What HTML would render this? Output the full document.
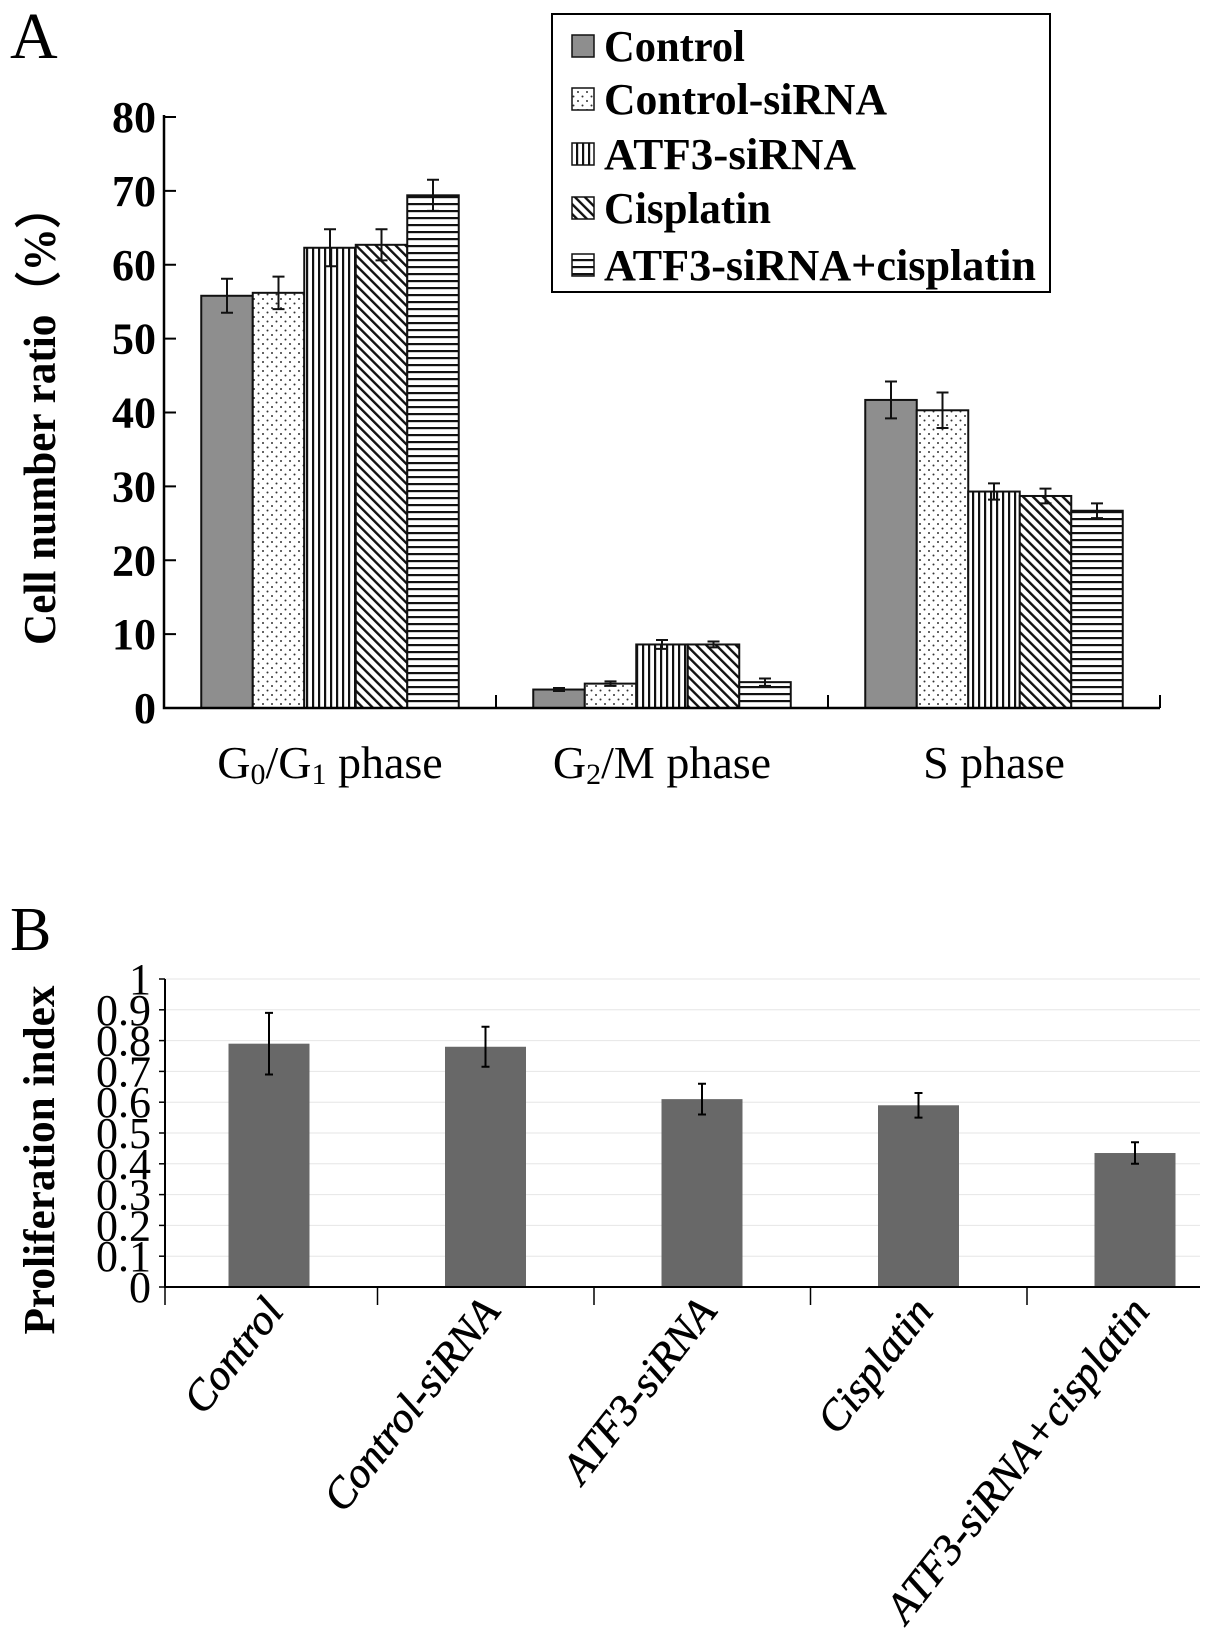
<!DOCTYPE html>
<html><head><meta charset="utf-8"><style>
html,body{margin:0;padding:0;background:#fff;}
svg{display:block;font-family:"Liberation Serif",serif;}
</style></head><body>
<svg id="fig" width="1205" height="1637" viewBox="0 0 1205 1637" xmlns="http://www.w3.org/2000/svg">
<defs>
<pattern id="p-dot" width="9" height="9" patternUnits="userSpaceOnUse"><rect width="9" height="9" fill="#fff"/><circle cx="2" cy="2" r="1" fill="#333"/><circle cx="6.5" cy="6.5" r="1" fill="#333"/></pattern>
<pattern id="p-vert" width="6" height="6" patternUnits="userSpaceOnUse"><rect width="6" height="6" fill="#fff"/><rect x="0" y="0" width="2.2" height="6" fill="#111"/></pattern>
<pattern id="p-diag" width="7" height="7" patternUnits="userSpaceOnUse" patternTransform="rotate(-45)"><rect width="7" height="7" fill="#fff"/><rect x="0" y="0" width="2.4" height="7" fill="#111"/></pattern>
<pattern id="p-horz" width="6" height="7" patternUnits="userSpaceOnUse"><rect width="6" height="7" fill="#fff"/><rect x="0" y="0" width="6" height="2.2" fill="#111"/></pattern>
</defs>
<text x="10" y="58" font-size="66">A</text>
<text x="10" y="950" font-size="62">B</text>
<g id="chartA"></g>
<g id="legendA"></g>
<g id="chartB"></g>
</svg>
<script>
const NS = "http://www.w3.org/2000/svg";
// Panel A data
const phases = ["G0/G1", "G2/M", "S"];
const groups = ["Control", "Control-siRNA", "ATF3-siRNA", "Cisplatin", "ATF3-siRNA+cisplatin"];
const controlVals = [55.8, 2.5, 41.7];
const controlSiVals = [56.2, 3.3, 40.3];
const atf3Vals = [62.3, 8.6, 29.3];
const cisVals = [62.7, 8.6, 28.7];
const comboVals = [69.4, 3.5, 26.7];
const controlErr = [2.3, 0.2, 2.5];
const controlSiErr = [2.2, 0.3, 2.4];
const atf3Err = [2.5, 0.6, 1.1];
const cisErr = [2.1, 0.4, 1.0];
const comboErr = [2.1, 0.5, 1.0];
const yTicksA = [0, 10, 20, 30, 40, 50, 60, 70, 80];
// Panel B data
const bCategories = ["Control", "Control-siRNA", "ATF3-siRNA", "Cisplatin", "ATF3-siRNA+cisplatin"];
const bValues = [0.79, 0.78, 0.61, 0.59, 0.435];
const bErrors = [0.10, 0.065, 0.05, 0.04, 0.035];
const yTicksB = [0, 0.1, 0.2, 0.3, 0.4, 0.5, 0.6, 0.7, 0.8, 0.9, 1];

function mk(tag, attrs, parent){ const e=document.createElementNS(NS,tag); for(const k in attrs) e.setAttribute(k,attrs[k]); parent.appendChild(e); return e; }

// ---------- Panel A ----------
const gA = document.getElementById("chartA");
const axA = {x0:164, x1:1160, y0:708, y1:117, vmax:80};
const yA = v => axA.y0 - (v/axA.vmax)*(axA.y0-axA.y1);
const bandW = (axA.x1-axA.x0)/phases.length;
const barW = 51.5;
const series = [controlVals, controlSiVals, atf3Vals, cisVals, comboVals];
const errs = [controlErr, controlSiErr, atf3Err, cisErr, comboErr];
const fills = ["#8e8e8e", "url(#p-dot)", "url(#p-vert)", "url(#p-diag)", "url(#p-horz)"];
const sNames = ["control","control-sirna","atf3-sirna","cisplatin","atf3-sirna-cisplatin"];
const phaseNames = ["g0-g1","g2-m","s"];

yTicksA.forEach(t=>{
  const tk = mk("line",{x1:axA.x0,x2:axA.x0+12,y1:yA(t),y2:yA(t),stroke:"#000","stroke-width":2},gA);
  
  
  const lb = mk("text",{x:156,y:yA(t)+15,"text-anchor":"end","font-size":44,"font-weight":"bold"},gA);
  lb.textContent = t;
  
  
});
phases.forEach((p,pi)=>{
  const cx = axA.x0 + bandW*(pi+0.5);
  const start = cx - barW*series.length/2;
  series.forEach((s,si)=>{
    const x = start + si*barW, y = yA(s[pi]);
    const r = mk("rect",{x:x,y:y,width:barW,height:axA.y0-y,fill:fills[si],stroke:"#111","stroke-width":2},gA);
    
    
    const ex = x+barW/2, eh = yA(s[pi]+errs[si][pi]), el = yA(s[pi]-errs[si][pi]);
    const e = mk("path",{d:`M${ex},${eh}V${el}M${ex-6},${eh}H${ex+6}M${ex-6},${el}H${ex+6}`,stroke:"#111","stroke-width":2,fill:"none"},gA);
    
    
  });
  const cl = mk("text",{x:cx,y:778,"text-anchor":"middle","font-size":46},gA);
  
  
  const parts = pi===0 ? ["G","0","/G","1"," phase"] : pi===1 ? ["G","2","/M phase"] : ["S phase"];
  parts.forEach((t,i)=>{ const ts=mk("tspan",{},cl); ts.textContent=t; if(/^\d$/.test(t)){ts.setAttribute("font-size","30");ts.setAttribute("dy","6");} else if(i>0 && /^\d$/.test(parts[i-1])){ts.setAttribute("dy","-6");} });
  const bt = mk("line",{x1:axA.x0+bandW*(pi+1),x2:axA.x0+bandW*(pi+1),y1:axA.y0,y2:axA.y0-13,stroke:"#000","stroke-width":2},gA);
  
  
});
const axLA = mk("path",{d:`M${axA.x0},${axA.y1-2}V${axA.y0}H${axA.x1}`,stroke:"#000","stroke-width":2.5,fill:"none"},gA);


const ytA = mk("text",{x:0,y:0,"text-anchor":"middle","font-size":46,"font-weight":"bold",transform:"translate(55,415) rotate(-90)",textLength:460,lengthAdjust:"spacingAndGlyphs"},gA);
ytA.textContent = "Cell number ratio（%）";



// Legend
const gL = document.getElementById("legendA");
const lbox = mk("rect",{x:552,y:14,width:498,height:278,fill:"#fff",stroke:"#000","stroke-width":2},gL);


const legY = [46, 99, 154, 208, 265];
const legLen = [141, 283, 252, 167, 432];
groups.forEach((g,i)=>{
  const sw = mk("rect",{x:572,y:legY[i]-11,width:22,height:22,fill:fills[i],stroke:"#111","stroke-width":1.5},gL);
  
  
  const t = mk("text",{x:604,y:legY[i]+15,"font-size":44,"font-weight":"bold",textLength:legLen[i],lengthAdjust:"spacingAndGlyphs"},gL);
  t.textContent = g;
  
  
});

// ---------- Panel B ----------
const gB = document.getElementById("chartB");
const axB = {x0:165, x1:1200, y0:1287, y1:979, vmax:1};
const yB = v => axB.y0 - (v/axB.vmax)*(axB.y0-axB.y1);
const pitchB = 216.5, barWB = 81;
yTicksB.forEach(t=>{
  if(t>0){ const gl = mk("line",{x1:axB.x0,x2:axB.x1,y1:yB(t),y2:yB(t),stroke:"#e6e6e6","stroke-width":1},gB);
    
     }
  const tk = mk("line",{x1:axB.x0-6,x2:axB.x0,y1:yB(t),y2:yB(t),stroke:"#000","stroke-width":1.5},gB);
  
  
  const lb = mk("text",{x:151,y:yB(t)+15,"text-anchor":"end","font-size":44},gB);
  lb.textContent = t;
  
  
});
bCategories.forEach((c,i)=>{
  const cx = axB.x0 + 104 + pitchB*i;
  const y = yB(bValues[i]);
  const r = mk("rect",{x:cx-barWB/2,y:y,width:barWB,height:axB.y0-y,fill:"#686868"},gB);
  
  
  const eh = yB(bValues[i]+bErrors[i]), el = yB(bValues[i]-bErrors[i]);
  const e = mk("path",{d:`M${cx},${eh}V${el}M${cx-4},${eh}H${cx+4}M${cx-4},${el}H${cx+4}`,stroke:"#000","stroke-width":2,fill:"none"},gB);
  
  
  const tx = axB.x0 + pitchB*(i+1) - 4;
  if(tx < axB.x1){ const bt = mk("line",{x1:tx,x2:tx,y1:axB.y0,y2:axB.y0+18,stroke:"#000","stroke-width":1.5},gB);
    
     }
  const lb = mk("text",{x:0,y:0,"text-anchor":"end","font-size":43,"font-style":"italic","stroke":"#000","stroke-width":0.6,transform:`translate(${cx+16},${1312}) rotate(-52)`},gB);
  lb.textContent = c;
  
  
});
const ft = mk("line",{x1:axB.x0,x2:axB.x0,y1:axB.y0,y2:axB.y0+18,stroke:"#000","stroke-width":1.5},gB);


const axLB = mk("path",{d:`M${axB.x0},${axB.y1}V${axB.y0}H${axB.x1}`,stroke:"#000","stroke-width":2,fill:"none"},gB);


const ytB = mk("text",{x:0,y:0,"text-anchor":"middle","font-size":44,"font-weight":"bold",transform:"translate(54,1160) rotate(-90)",textLength:349,lengthAdjust:"spacingAndGlyphs"},gB);
ytB.textContent = "Proliferation index";


</script>
</body></html>
